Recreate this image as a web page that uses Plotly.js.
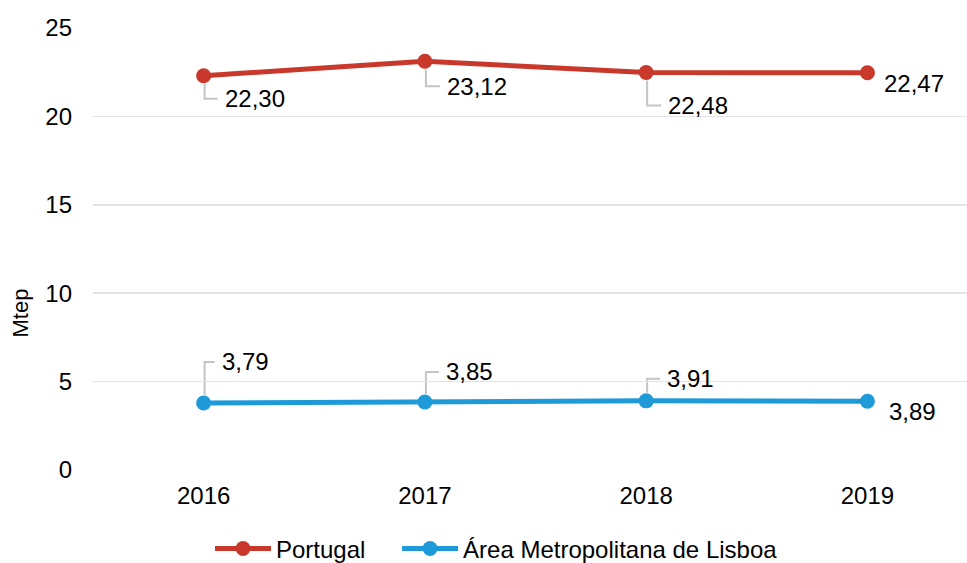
<!DOCTYPE html>
<html>
<head>
<meta charset="utf-8">
<script src="https://cdn.plot.ly/plotly-3.0.1.min.js"></script>
<style>
html,body{margin:0;padding:0;overflow:hidden;background:#fff;}
#chart{width:967px;height:563px;}
</style>
</head>
<body>
<div id="chart"></div>
<script>
const years = ['2016', '2017', '2018', '2019'];
const portugal = [22.30, 23.12, 22.48, 22.47];
const lisboa = [3.79, 3.85, 3.91, 3.89];
const seriesNames = ['Portugal', 'Área Metropolitana de Lisboa'];
const yTicks = [0, 5, 10, 15, 20, 25];

// label pixel offsets (dx, dy; dy positive = up) and whether a leader line is drawn
const ptOffsets = [[19, -23, true], [20, -25, true], [20, -33, true], [15, -11, false]];
const lxOffsets = [[16, 41, true], [19, 30, true], [19, 22, true], [20, -10, false]];

const red = '#C9392B';
const blue = '#1E9AD8';
const font = 'Liberation Sans, Arial, sans-serif';

function fmt(v) { return v.toFixed(2).replace('.', ','); }
const pad = '\u00A0'.repeat(4);

const traces = [
  {x: years, y: portugal, name: seriesNames[0] + pad, type: 'scatter', mode: 'lines+markers',
   line: {color: red, width: 5}, marker: {color: red, size: 15}},
  {x: years, y: lisboa, name: seriesNames[1], type: 'scatter', mode: 'lines+markers',
   line: {color: blue, width: 5}, marker: {color: blue, size: 15}}
];

const annotations = [];
const shapes = [];
function addLabels(vals, offs) {
  vals.forEach((v, i) => {
    const [dx, dy, leader] = offs[i];
    annotations.push({x: i, y: v, xref: 'x', yref: 'y', text: fmt(v), showarrow: false,
      xanchor: 'left', yanchor: 'middle', xshift: dx, yshift: dy,
      font: {family: font, size: 24, color: '#000'}});
    if (leader) {
      const s = dy > 0 ? 1 : -1;
      shapes.push({type: 'path', xref: 'x', yref: 'y', xsizemode: 'pixel', ysizemode: 'pixel',
        xanchor: i, yanchor: v,
        path: `M1,${s * 8} L1,${dy} L${dx - 5},${dy}`,
        line: {color: '#C4C4C4', width: 2}, layer: 'below'});
    }
  });
}
addLabels(portugal, ptOffsets);
addLabels(lisboa, lxOffsets);

annotations.push({text: 'Mtep', xref: 'paper', yref: 'paper', x: -0.083, y: 0.355,
  showarrow: false, textangle: -90, xanchor: 'center', yanchor: 'middle',
  font: {family: font, size: 22, color: '#000'}});

const layout = {
  width: 967, height: 563,
  margin: {l: 93, r: 0, t: 28, b: 93},
  paper_bgcolor: '#fff', plot_bgcolor: '#fff',
  font: {family: font, color: '#000'},
  showlegend: true,
  legend: {orientation: 'h', xref: 'container', yref: 'container', x: 210 / 967, y: 0.025,
    xanchor: 'left', yanchor: 'middle', font: {family: font, size: 24, color: '#000'},
    itemwidth: 56, tracegroupgap: 0},
  xaxis: {type: 'category', range: [-0.5, 3.45], showgrid: false, zeroline: false,
    showline: false, ticks: '', ticklabelstandoff: 9, tickfont: {family: font, size: 24, color: '#000'}},
  yaxis: {range: [0, 25], tickvals: yTicks, ticktext: yTicks.map(String),
    showgrid: true, gridcolor: '#E3E3E3', gridwidth: 1.5, zeroline: false, showline: false,
    ticks: '', ticklabelstandoff: 20, tickfont: {family: font, size: 24, color: '#000'}},
  annotations: annotations,
  shapes: shapes
};

Plotly.newPlot('chart', traces, layout, {displayModeBar: false, staticPlot: true});
</script>
</body>
</html>
